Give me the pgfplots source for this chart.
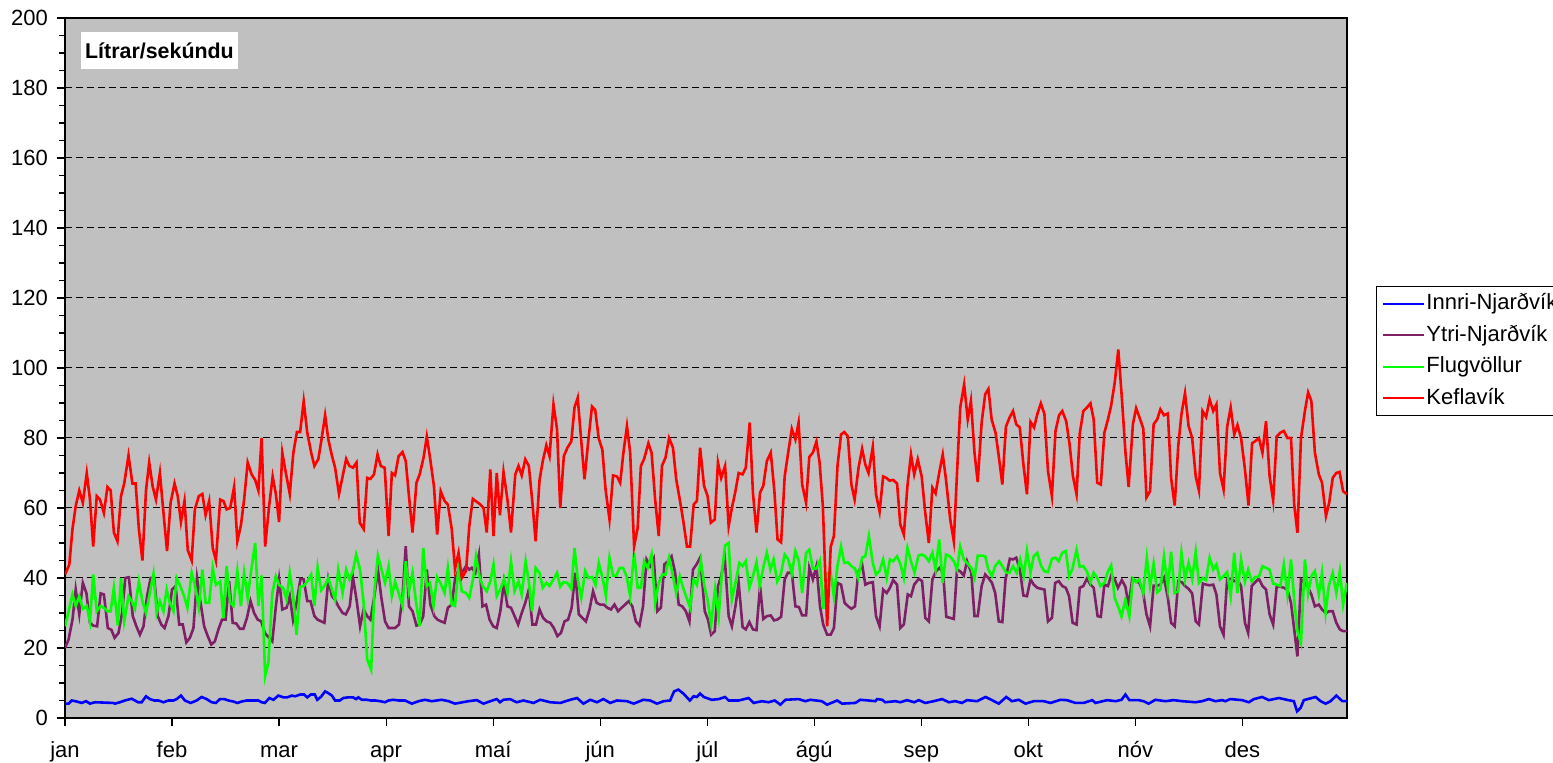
\documentclass[border=0pt]{standalone}
\usepackage{fontspec}
\setmainfont{Liberation Sans}
\usepackage{pgfplots}
\pgfplotsset{compat=1.18}
\definecolor{bggray}{HTML}{C0C0C0}
\definecolor{ytri}{HTML}{7F1F66}
\definecolor{innri}{HTML}{0000FF}
\definecolor{flug}{HTML}{00FF00}
\definecolor{kef}{HTML}{FF0000}
\begin{document}
\begin{tikzpicture}
\begin{axis}[
  name=ax, at={(0,0)}, anchor=south west,
  scale only axis, width=641pt, height=350pt,
  xmin=0, xmax=359.3, ymin=0, ymax=200,
  axis background/.style={fill=bggray},
  axis line style={black, line width=0.6pt},
  xtick={0,30,...,330},
  xticklabels={jan,feb,mar,apr,maí,jún,júl,ágú,sep,okt,nóv,des},
  ytick={0,20,...,200},
  minor y tick num=3,
  tick pos=left,
  tick align=outside,
  major tick length=4pt, minor tick length=3pt,
  tick style={black, line width=0.6pt},
  ymajorgrids,
  major grid style={black, line width=0.5pt, dash pattern=on 3.5pt off 2pt},
  ticklabel style={font=\fontsize{11}{13}\selectfont},
  /pgf/number format/assume math mode=true,
  xticklabel style={yshift=-4pt, text height=8pt, text depth=2.5pt},
  yticklabel style={xshift=-1pt},
  no markers,
  legend cell align=left,
  legend style={at={(axis description cs:1.0226,0.617)}, anchor=north west,
    draw=black, line width=0.5pt, fill=white,
    font=\fontsize{11}{13}\selectfont,
    inner xsep=3pt, inner ysep=2.5pt, row sep=3.8pt,
    nodes={inner sep=0.5pt, text height=8.5pt, text depth=2.5pt}},
  legend image code/.code={\draw[#1, line width=1pt] (0pt,0pt) -- (20.5pt,0pt);},
]
\node[fill=white, inner sep=0pt, minimum width=78.5pt, minimum height=18.8pt,
  font=\bfseries\fontsize{10.7}{12}\selectfont] at (rel axis cs:0.0737,0.9537) {Lítrar/sekúndu};

\addplot[innri, line width=1.3pt] coordinates {
(0,4.1)(1,4.1)(1.9,5)(3.3,4.7)(4.7,4.3)(5.9,4.8)(7,4.1)(8.4,4.5)(13.5,4.3)(14,4.1)(15.4,4.5)(16.8,5)(18.7,5.5)(19.6,5)(20.5,4.5)(21.5,4.5)(22.7,6.2)(23.8,5.4)(25,5)(26.2,5)(27.6,4.5)(29,5)(30.4,5)(31.3,5.4)(32.5,6.4)(33.6,5)(35.2,4.3)(36.9,5)(38.3,6)(39.7,5.4)(41.1,4.5)(42.3,4.3)(43.4,5.4)(44.6,5.4)(45.8,5)(47.2,4.7)(48.3,4.3)(49.5,4.7)(50.9,5)(52.8,5)(54.2,5)(55.1,4.5)(56,4.3)(57.3,5.7)(58.4,5.2)(59.8,6.4)(61.2,5.9)(62.3,5.9)(63.6,6.4)(64.5,6.2)(65.9,6.7)(67,6.7)(67.9,5.9)(68.9,6.7)(70,6.7)(70.7,5.2)(71.7,6)(72.9,7.6)(73.8,7.1)(74.8,6.4)(75.7,5)(77,5)(78,5.7)(79.4,5.9)(80.7,5.9)(81.6,5.4)(82.2,5.9)(83.2,5.2)(84.6,5.2)(85.7,5)(87,5)(88.3,4.8)(89.7,4.5)(90.7,5)(92,5.2)(93.5,5)(95.3,5)(97.2,4.1)(99.1,4.8)(100.9,5.2)(102.8,4.8)(105.6,5.2)(107.5,4.8)(109.3,4.1)(113.1,4.8)(115.4,5.1)(117.3,4.1)(119.2,4.8)(121,5.4)(121.9,4.5)(122.9,5.2)(124.7,5.4)(126.6,4.5)(128.5,5)(131.3,4.3)(133.2,5.2)(136,4.5)(138.8,4.3)(141.6,5.2)(143.5,5.7)(145.3,4.1)(147.2,5.2)(149.1,4.5)(150.9,5.4)(152.8,4.3)(154.7,5)(157.5,4.8)(159.4,4.1)(162.1,5.2)(164,5)(165.9,4.1)(167.8,4.8)(169.6,5)(170.7,7.6)(171.9,8.1)(173.4,6.9)(175.1,5)(176.2,6.2)(177.1,6)(178,7)(179,6)(181.3,5.2)(183.2,5.4)(185,6)(186,5)(188.8,5)(191.6,5.7)(193,4.3)(195.3,4.8)(197.2,4.5)(198.9,5)(200.5,3.8)(201.9,5.2)(205.6,5.4)(207.5,4.8)(208.9,5.2)(212.1,4.8)(213.6,3.8)(216.4,5)(217.8,4.1)(221.5,4.3)(222.9,5.2)(225.2,5)(227.1,4.8)(227.6,5.4)(229,5.2)(229.9,4.5)(232.7,4.8)(234.1,4.5)(236,5.1)(238,4.5)(239.3,5.1)(241.1,4.3)(243.5,4.8)(245.8,5.4)(247.7,4.5)(249.5,4.8)(251.4,4.3)(252.8,5.1)(255.6,4.8)(258,6)(259.8,5.1)(261.7,4.1)(263.8,6)(265.4,4.8)(267.3,5.2)(269.2,4.1)(271.5,4.8)(274.3,4.8)(276.2,4.3)(279,5.2)(280.8,5.1)(283.2,4.3)(285.5,4.3)(287.9,5.1)(288.8,4.3)(292.1,5.1)(294.5,4.8)(296.1,5.2)(297.2,6.7)(298.3,5.1)(300.9,5.1)(302.3,4.8)(303.7,4.1)(305.6,5.2)(308.4,4.8)(310.7,5.1)(313.1,4.8)(316.8,4.5)(318.7,4.8)(320.6,5.4)(322.4,4.8)(324.3,5.1)(325.2,4.8)(326.6,5.4)(329.9,5.1)(331.8,4.5)(333.2,5.4)(335.5,6)(337.4,5.1)(340.2,5.7)(342.9,5.1)(344.4,4.8)(345.3,1.9)(346.3,2.9)(347.2,5.1)(350.5,6)(351.9,4.8)(353.3,4.1)(354.7,4.8)(356.3,6.4)(358,4.8)(359.3,4.8)
};
\addlegendentry{Innri-Njarðvík}

\addplot[ytri, line width=1.3pt] coordinates {
(0,20)(1,22.4)(2.1,28.1)(3,36.7)(4,29.6)(5,38.6)(6,35.7)(7,27.2)(7.9,26.4)(9,26.2)(10,35.6)(10.9,35.3)(12,25.7)(13,25.2)(13.9,22.9)(15,24.3)(16,30)(16.9,40)(17.9,40.2)(19,29.1)(20,26.2)(21,23.8)(22,26.2)(23,34.8)(24,40)(25,40)(26,29.1)(27,26.7)(27.9,25.7)(29,29.1)(30,36.7)(31,37.7)(32,26.7)(33,26.7)(34,21.6)(35,22.9)(36,25.7)(37,40)(38,32.9)(39,26.2)(40,23.4)(41,21)(42,21.9)(43,25.3)(44,28.1)(45,28.1)(46,39.1)(47,27.2)(48,27)(49,25.5)(50,25.5)(51,28.6)(52,33.4)(53,30)(54,28.1)(55,27.6)(56,24.3)
(57.2,22.9)(58.1,21.9)(59.1,31.9)(60,39.6)(60.9,31)(62.1,31.5)(63,34.8)(63.9,28.1)(64.9,32.9)(66,39.8)(66.9,39.6)(67.9,33.4)(68.8,33.4)(69.9,29.1)(70.8,28.1)(71.8,27.6)(72.7,27.2)(73.8,39.6)(74.8,34.8)(75.7,33.8)(76.6,31.9)(77.8,30)(78.7,29.6)(79.8,31.9)(80.7,40.3)(81.7,33.8)(82.7,26.2)(83.7,31)(84.7,29.1)(85.6,28.1)(86.7,34.8)(87.7,42.4)(88.6,34.8)(89.7,27.6)(90.7,25.7)(91.6,25.7)(92.5,25.7)(93.6,26.7)(94.6,34.8)(95.5,49.1)(96.4,31.9)(97.4,30.5)(98.5,26.4)(99.4,26.7)(100.4,29.1)(101.4,42.4)(102.4,32.4)(103.5,29.1)(104.4,28.1)(105.4,27.6)(106.4,27.2)(107.3,31.5)(108.4,32.4)(109.3,39.6)(110.3,42.4)(111.2,41.5)(112.4,43.4)(113.3,42.4)
(114,42.9)(115,41.5)(116,46.7)(117,31.9)(118,32.4)(119,28.1)(120,26.2)(121,25.7)(122,30.5)(123,38.6)(124,31.9)(125,31.5)(126,29.1)(127,26.7)(128,30)(129,32.9)(130,36.7)(131,26.7)(132,26.7)(133,31)(134,28.6)(135,27.6)(136,27.2)(137,25.7)(138,23.4)(139,24.3)(140,27.6)(141,28.1)(142,31.5)(143,41.5)(144,29.6)(145,28.6)(146,27.6)(147,31)(148,36.2)(149,32.9)(150,32.4)(151,32.4)(152,31.5)(153,31)(154,32.4)(155,30.5)(156,31.5)(157,32.4)(158,33.4)(159,31.9)(160,27.6)(161,26.4)(162,31.9)(163,45.3)(164,43.4)(165,45.5)(166,30.5)(167,31.5)(168,43.9)(169,44.8)(170,46.2)(171,41.5)(172,32.4)(173,31.9)(174,30.5)
(175,27.6)(176,42.4)(177,43.9)(178,45.8)(179.3,30.5)(180.2,28.1)(181.1,23.8)(182.1,24.8)(183,37.7)(183.9,40.5)(184.9,45.8)(186,29.1)(186.9,26.2)(187.9,31.9)(188.8,38.6)(189.9,26)(190.8,25.3)(191.8,27.4)(192.8,25.3)(193.8,25.1)(194.8,37.7)(195.7,28.3)(196.7,29.1)(197.8,29.3)(198.7,27.9)(199.6,28.1)(200.7,28.9)(201.7,39.6)(202.6,41.5)(203.7,41.5)(204.7,31.9)(205.7,31.7)(206.6,29.3)(207.7,29.3)(208.6,42.9)(209.6,39.6)(210.6,43.4)(211.6,31.9)(212.5,26.7)(213.6,23.8)(214.6,23.8)(215.5,25.7)(216.5,38.6)(217.5,38.1)(218.5,32.9)(219.5,31.9)(220.4,31.2)(221.4,31.9)(222.3,41.5)(223.4,43.9)(224.3,38.1)(225.3,38.6)(226.4,38.8)(227.3,29.1)(228.3,26.2)(229.3,36.7)(230.3,35.7)(231.2,37.2)(232.1,39.4)(233.2,38.1)(234.1,25.7)(235.1,26.7)
(236.2,35.3)(237.1,34.8)(238,38.1)(239.3,39.8)(240.2,39.1)(241.1,28.6)(242.1,27.6)(243.1,39.6)(244.1,41.9)(245.1,42.9)(246.1,41.5)(247,28.9)(248.1,28.6)(249.1,28.3)(250,42.4)(250.9,41.9)(251.9,40.7)(252.8,44.8)(254,41.5)(254.9,29.1)(255.8,29.1)(256.9,37.7)(257.9,41)(258.8,40)(259.8,38.6)(260.7,35.7)(261.7,27.6)(262.7,27.4)(263.6,39.6)(264.8,45.5)(265.7,45.3)(266.6,45.8)(267.6,42.4)(268.6,35)(269.6,34.8)(270.6,39.6)(271.5,38.1)(272.5,37.2)(273.6,36.9)(274.5,36.7)(275.5,27.6)(276.6,28.6)(277.5,38.6)(278.5,39.1)(279.5,37.7)(280.5,37.2)(281.4,34.8)(282.4,27.2)(283.5,26.7)(284.4,37.2)(285.4,37.7)(286.4,39.8)(287.4,38.1)(288.3,37.2)(289.4,29.1)(290.3,28.9)(291.3,38.1)(292.3,37.7)(293.2,40.7)(294.2,39.6)(295.1,37.2)(296.2,39.4)(297.2,37.5)
(298.1,31.9)(299.1,39.8)(300.2,39.1)(301.1,38.6)(302.1,36.2)(303.1,29.6)(304.1,26.2)(305.1,37.8)(306.1,37.8)(307,38.1)(308,40)(309.1,34.3)(310,27.2)(311,26.2)(312,39.1)(313,38.8)(313.9,37.7)(314.9,36.9)(315.9,35.6)(316.9,27.6)(317.8,26.7)(318.9,38.4)(319.8,38.1)(320.8,37.9)(321.8,38.1)(322.7,35.3)(323.7,26.2)(324.7,23.8)(325.7,39.6)(326.7,39.8)(327.7,39.1)(328.6,39.6)(329.6,37.7)(330.7,27.2)(331.6,24.3)(332.6,37.7)(333.6,38.8)(334.6,39.8)(335.6,37.7)(336.6,36.7)(337.6,29.6)(338.6,26.7)(339.6,37.7)(340.6,37.5)(341.6,37.2)(342.6,36.7)(343.6,32.9)(344.5,25.3)(345.4,17.6)(346.4,39.6)(347.5,38.6)(348.4,37.2)(349.3,35.3)(350.3,31.9)(351.4,32.4)(352.3,31)(353.4,30)(354.3,30.5)(355.3,30.5)(356.3,27.2)(357.3,25.3)(358.2,24.8)(359.3,24.8)
};
\addlegendentry{Ytri-Njarðvík}

\addplot[flug, line width=1.3pt] coordinates {
(0,26.2)(0.9,30)(2.1,35.3)(3,32)(4,34.8)(5,31.2)(6.1,32)(7,27.6)(7.9,41)(8.9,30.5)(10,32)(10.9,31.5)(11.9,30.5)(12.8,30.5)(13.7,37.2)(14.8,26.4)(15.7,40)(16.6,27.6)(17.8,34.8)(18.7,33.4)(19.6,31.2)(20.7,39)(21.7,33.4)(22.7,30)(23.6,34.8)(24.8,41.2)(25.7,30)(26.6,33.4)(27.6,30.5)(28.5,36.7)(29.4,32.9)(30.4,30.5)(31.3,40)(32.2,38)(33.4,34.8)(34.3,31.5)(35.5,41.5)(36.4,38)(37.5,31.5)(38.5,42.4)(39.4,32.9)(40.4,32.9)(41.4,42.9)(42.3,38)(43.5,39)(44.4,28.6)(45.3,43.4)(46.3,32.9)(47.2,32)(48.3,42)(49.3,32)(50.2,41.5)(51.2,34.3)(52.1,41.5)(53.3,50)(54.2,32)(55.1,40.7)(56.1,12)(57,15.7)(58.1,35.7)(59.1,40.5)(60,38)(61.1,37.2)(62.1,33.8)(63,41.5)(63.9,35.3)(64.9,23.8)(65.9,37.5)(66.9,37.7)(67.9,39)(69,41)(69.9,32)(70.8,43)(71.8,36.5)(72.9,38)(73.8,40)(74.8,36.7)(75.7,33.8)(76.6,42.4)(77.8,35.7)(78.8,42.4)(79.7,39.6)(80.7,42)(81.6,46.7)(82.7,42.4)(83.7,32.9)(84.7,16.7)(85.8,13.8)(86.7,36.2)(87.7,46.4)(88.6,42.9)(89.7,38.6)(90.7,43.4)(91.6,34.8)(92.5,39)(93.5,35.7)(94.6,32)(95.5,44.8)(96.4,36.2)(97.4,41.5)(98.3,33.8)(99.4,26.2)(100.4,48.6)(101.4,37.7)(102.3,38.6)(103.3,32)(104.3,40.3)(105.2,38.6)(106.4,35.7)(107.3,42.9)(108.4,32.4)(109.3,32)(110.3,43.4)(111.2,36.2)(112.4,35.7)(113.3,34.3)(114.5,40.5)(115.2,46.2)(116.2,40.3)(117.1,37.7)(118.2,36.2)(119.2,39)(120.1,43.9)(121,34.8)(122.2,37.2)(123.1,39.8)(124,35.7)(125,44.8)(126,36.2)(127.1,39)(128,35.3)(129.1,44.8)(130,39)(130.9,30.5)(131.9,42.9)(133,41.5)(133.9,37.2)(134.9,38.6)(135.8,37.7)(136.9,39.6)(137.9,41.5)(138.8,37.5)(139.7,38.8)(140.8,38.6)(141.9,36.9)(142.8,48.6)(143.7,39.6)(144.7,34.3)(145.8,42)(146.7,40)(147.8,40.3)(148.7,38)(149.6,44.3)(150.7,39.8)(151.6,34.8)(152.6,45.8)(153.6,40.7)(154.5,40.7)(155.5,42.9)(156.4,42.9)(157.4,40.5)(158.4,34.8)(159.5,47.2)(160.5,37.2)(161.4,37.2)(162.3,44.8)(163.3,42.9)(164.4,46.7)(165.4,32.9)(166.4,38.6)(167.4,41)(168.3,41)(169.3,45.8)(170.4,40.5)(171.3,35.7)(172.3,40.5)(173.4,36.7)(175.2,31.5)(176.2,39.6)(177.1,38)(178.2,45)(179.2,37.7)(180.1,33.8)(181.1,26.7)(182.2,36.9)(183.2,29)(184.1,41.5)(185,49.3)(186,50)(186.9,33.8)(187.9,38.6)(189,44.3)(189.9,43.4)(190.8,44.8)(191.8,37.2)(192.8,40.5)(193.8,44.5)(194.7,37.8)(195.8,43.4)(196.7,47.2)(197.7,42.4)(198.6,45.3)(199.6,39)(200.6,41)(201.7,46.7)(202.7,45.3)(203.7,41.2)(204.7,47.7)(205.7,44.8)(206.6,35.7)(207.7,47.2)(208.6,48.1)(209.6,42.7)(210.6,42.7)(211.6,45)(212.5,31.2)(213.6,41.2)(214.5,42.2)(215.5,34.8)(216.5,43.4)(217.5,49)(218.4,44.3)(219.4,44.5)(220.4,43.4)(221.4,42.7)(222.3,40)(223.4,45.8)(224.3,46.2)(225.3,52)(226.4,44.3)(227.3,41)(228.3,42)(229.3,45.3)(230.3,40)(231.2,45.3)(232.1,44.8)(233.2,46.2)(234.1,44.1)(235.1,40)(236.1,48.6)(237.1,44.8)(238.1,41.5)(239.2,46.4)(240.1,46.7)(241.1,46.2)(242.1,44.8)(243.1,47.2)(244,42.4)(245,51)(246,38.6)(246.9,46.7)(248,46.2)(249.1,44.8)(250,42.4)(250.9,49)(251.9,45.3)(252.8,44.3)(254,42.9)(254.9,40)(255.8,46.4)(256.9,46.4)(257.9,46.2)(258.8,42.4)(259.8,40.5)(260.7,43.4)(261.8,44.8)(262.7,43.4)(263.8,41.5)(264.7,41.5)(265.7,43.4)(266.7,41.5)(267.7,45.3)(268.7,40.5)(269.6,47.7)(270.6,41.5)(271.5,46.2)(272.5,47.2)(273.6,43.4)(274.5,41.9)(275.5,41.7)(276.6,45.5)(277.6,45.8)(278.5,44.8)(279.5,47.2)(280.5,47.7)(281.4,40.5)(282.3,42.4)(283.5,48)(284.4,43.2)(285.4,43.4)(286.4,41.9)(287.4,38.8)(288.3,41.5)(289.3,40)(290.2,37.7)(291.3,38.6)(292.3,41.9)(293.2,43.6)(294.2,34.3)(295.1,32)(296.1,29)(297.2,33.8)(298.3,29)(299.3,39.8)(300.2,38.8)(301.1,39.6)(302.2,35.7)(303.2,45.8)(304.1,37.7)(305.1,44.1)(306.1,35.9)(307,36.7)(308,46.2)(309.1,37.2)(310,47.5)(311,35.7)(312,36.2)(312.9,47.2)(313.9,39.6)(314.9,44.3)(315.9,39.8)(316.9,47.5)(317.8,38.6)(318.9,40)(319.8,39.4)(320.8,45.8)(321.8,42.4)(322.7,43.9)(323.7,39.6)(324.7,40.5)(325.7,41.7)(326.7,34.8)(327.7,47.2)(328.6,35.7)(329.6,45.3)(330.7,39)(331.6,42.4)(332.6,39)(333.6,40.3)(334.6,40.3)(335.6,43.4)(336.6,42.9)(337.6,42.4)(338.6,38.4)(339.6,38.1)(340.6,37.7)(341.6,43.9)(342.6,35.3)(343.6,45.3)(344.5,33.8)(345.4,24.8)(346.4,21.4)(347.5,45.3)(348.4,35.5)(349.3,40.5)(350.3,42)(351.4,35.3)(352.3,41.5)(353.3,30)(354.2,37.7)(355.3,41.5)(356.3,35.7)(357.3,42)(358.2,32.4)(359.3,38.6)
};
\addlegendentry{Flugvöllur}

\addplot[kef, line width=1.3pt] coordinates {
(0,41)(1.2,43.8)(2.1,54)(3,60.5)(4,65)(5,61.5)(6.1,70)(7,62.4)(7.9,49)(8.9,63.4)(9.8,62.4)(10.9,58.6)(11.9,66)(12.8,65)(13.7,53)(14.7,50.5)(15.7,63.4)(16.6,67)(17.8,75)(18.9,67)(19.8,67)(20.7,54)(21.7,45)(22.7,65)(23.6,73)(24.6,66)(25.5,62.4)(26.6,70)(27.6,58.6)(28.6,47.7)(29.6,61.5)(30.7,67)(31.6,63.4)(32.5,56)(33.5,62)(34.4,48)(35.5,45)(36.4,59.6)(37.5,63.4)(38.5,64)(39.4,58)(40.4,62)(41.4,48.6)(42.3,45)(43.5,62.4)(44.4,62)(45.3,59.6)(46.3,60)(47.4,66)(48.3,50.5)(49.3,55)(50.2,62.4)(51.2,73)(52.3,69.6)(53.3,68)(54.2,65)(55.1,80)(56.1,49)
(57.2,60.5)(58.2,69)(59.1,64)(60,56)(60.9,75.8)(61.9,70)(63,64)(64,75.8)(65,81.7)(65.9,81.7)(66.9,90.5)(67.9,81.5)(69,75.8)(69.9,72)(71,74)(71.9,79.6)(72.9,86.5)(73.8,79.6)(74.8,75)(75.7,71.5)(76.8,64)(77.8,69)(78.8,74)(79.7,72)(80.7,71.5)(81.7,73)(82.6,55.8)(83.7,54)(84.7,68.6)(85.6,68.3)(86.6,69.6)(87.6,75.3)(88.5,72)(89.6,71.5)(90.7,52)(91.6,70)(92.5,69.3)(93.5,74.8)(94.6,76)(95.5,73.4)(96.4,63.4)(97.4,53)(98.5,67.2)(99.4,69.6)(100.5,74.4)(101.4,80.4)(102.3,74.4)(103.4,66.3)(104.3,52.4)(105.3,64.8)(106.4,62)(107.3,61)(108.4,53.9)(109.3,42.6)(110.3,47.2)(111.2,40)(112.4,42)(113.3,54.8)(114.3,62.6)
(116.4,61)(117.3,60)(118.2,53)(119.2,71)(120.1,52)(121,70)(121.9,57.9)(122.9,70.3)(124,62.4)(125,53)(126.2,69.6)(127.1,72)(128,69.3)(129,73.9)(130,72)(131,61.5)(131.9,50.5)(133,68)(133.9,73.4)(134.9,77.9)(135.8,74.8)(136.9,89.6)(137.9,82.5)(138.8,60)(139.8,74.8)(140.8,77.2)(141.9,79)(142.8,88.7)(143.7,91.5)(144.7,79)(145.6,68.2)(146.7,79.6)(147.7,89)(148.6,88)(149.6,79.8)(150.6,76.7)(151.5,65.3)(152.6,56.7)(153.6,69.3)(154.7,69)(155.6,67.2)(156.5,75.8)(157.5,83.4)(158.4,75.8)(159.5,49)(160.5,54.3)(161.4,72)(162.3,74)(163.5,78.5)(164.4,75.8)(165.4,62.4)(166.4,52)(167.3,72)(168.3,74.4)(169.3,80)(170.4,77.2)(171.3,68.2)(172.3,62.4)(173.3,56.2)(174.3,49)(175.2,49)(176.2,61)(177.1,62)(178,77.2)(179.1,66.3)(180.1,63.4)(181,55.8)(182.1,56.7)(183,73)(183.9,68.6)(185,72)(186,54.8)(186.9,60)(187.9,64.8)(188.8,70)(189.9,69.6)(190.8,71.5)(191.9,84.4)(192.8,64.4)(193.8,53)(194.8,64.4)(195.7,66.3)(196.7,73.4)(197.8,75.8)(198.8,65)(199.7,51)(200.7,50.2)(201.7,69)(202.6,75.3)(203.7,82.6)(204.7,79.6)(205.6,84.4)(206.6,66.7)(207.7,61.5)(208.6,74.6)(209.6,75.8)(210.6,79)(211.5,72.9)(212.4,60.5)(213.6,26.2)(214.6,48.9)(215.5,52)(216.5,72)(217.5,81)(218.4,81.7)(219.4,80.5)(220.4,66.7)(221.3,62.4)(222.4,71.5)(223.4,76.9)(224.3,72.4)(225.2,70)(226.4,77.5)(227.3,63.9)(228.3,59)(229.3,69)(230.2,68.6)(231.1,67.8)(232.1,68)(233.2,67)(234.1,55.3)(235.1,52.4)(236.1,66.3)(237.1,75.3)(238,69.6)(239,73.9)(240.1,69)(241.1,58.6)(242.1,50)(243.1,65.8)(244,64.2)(245,70)(246,75.3)(246.9,68.2)(248.1,56.7)(249.1,50.5)(250,70)(250.9,88.7)(252,95.3)(253,85.3)(253.9,90.6)(254.9,75.8)(255.8,67.4)(256.9,84.4)(257.9,92.5)(258.8,94)(259.7,85.3)(260.8,81.5)(261.7,74.8)(262.7,66.7)(263.7,83.2)(264.7,85.8)(265.7,87.7)(266.6,83.9)(267.6,83)(268.6,72.5)(269.6,63.9)(270.6,84.6)(271.6,83)(272.5,86.8)(273.5,89.9)(274.5,86.8)(275.5,70.5)(276.6,63.4)(277.6,82)(278.6,86.5)(279.5,87.7)(280.6,84.8)(281.5,78.6)(282.5,69)(283.5,63.9)(284.4,81.3)(285.4,87.7)(286.4,88.7)(287.4,89.9)(288.3,85.3)(289.3,67.2)(290.3,66.7)(291.3,81.5)(292.3,85.3)(293.2,89.3)(294.2,95.8)(295.2,105.3)(296.3,90)(297.2,76)(298.1,66)(299.3,84)(300.2,88.5)(301.1,86)(302.2,82.7)(303.1,63)(304.1,64.8)(305.1,83.9)(306.1,85.3)(307,88.2)(308,86.5)(309.1,87)(310,68.6)(311,60.7)(312,77.7)(312.9,86.8)(313.9,92.8)(314.9,83.4)(315.9,80)(316.9,69)(317.8,65)(318.8,87.7)(319.8,86)(320.8,91)(321.8,87.7)(322.7,89.6)(323.7,70)(324.7,65.3)(325.7,83.2)(326.7,88.7)(327.7,81)(328.6,83.7)(329.6,80)(330.7,71)(331.7,60.7)(332.7,78.5)(333.6,79.1)(334.6,80)(335.6,75.8)(336.6,84.8)(337.6,69.1)(338.6,62.2)(339.6,80.4)(340.6,81.5)(341.6,82)(342.6,80)(343.6,80)(344.5,61)(345.4,52.9)(346.4,80)(347.5,87.7)(348.4,93)(349.3,90.6)(350.3,75.8)(351.4,69.6)(352.3,67.2)(353.4,57.7)(354.3,61.5)(355.3,68.6)(356.3,70)(357.2,70.3)(358.2,64.8)(359.3,63.9)
};
\addlegendentry{Keflavík}
\end{axis}
\pgfresetboundingbox
\path[use as bounding box] ([xshift=-32.5pt,yshift=-22.5pt]ax.south west) rectangle ([xshift=744pt,yshift=359pt]ax.south west);
\end{tikzpicture}
\end{document}
